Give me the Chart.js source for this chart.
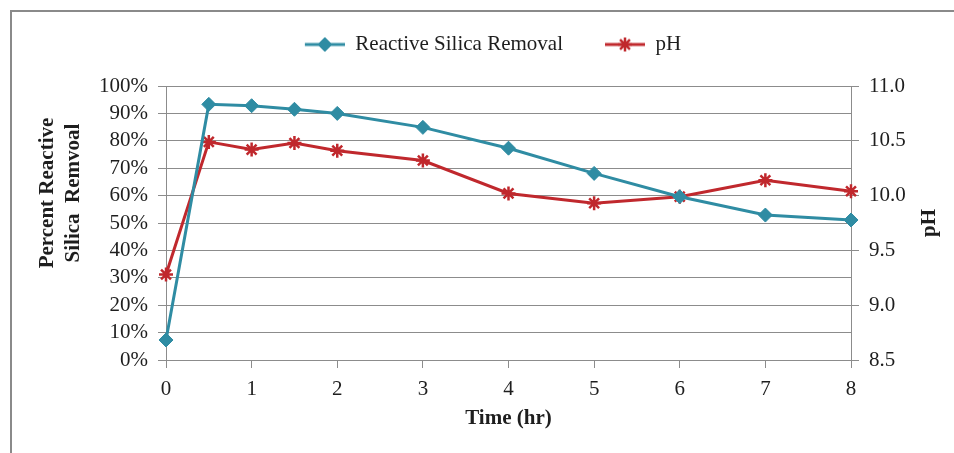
<!DOCTYPE html>
<html>
<head>
<meta charset="utf-8">
<script src="https://cdn.jsdelivr.net/npm/chart.js@4/dist/chart.umd.min.js"></script>
<style>
  html, body { margin: 0; padding: 0; background: #fff; }
</style>
</head>
<body>
<canvas id="myChart" width="954" height="453"></canvas>
<script>
// sampling times (hr)
const hours = [0, 0.5, 1, 1.5, 2, 3, 4, 5, 6, 7, 8];
// percent reactive silica removed
const silicaRemoval = [7.3, 93.3, 92.8, 91.5, 90.0, 84.9, 77.3, 68.1, 59.6, 52.9, 51.1];
// pH at each sample
const phValues = [9.28, 10.49, 10.42, 10.48, 10.41, 10.32, 10.02, 9.93, 9.99, 10.14, 10.04];

const timeTicks = [0, 1, 2, 3, 4, 5, 6, 7, 8];
const percentTicks = [0, 10, 20, 30, 40, 50, 60, 70, 80, 90, 100];
const phTicks = [8.5, 9.0, 9.5, 10.0, 10.5, 11.0];

const TEAL = '#2f8ca3';
const RED = '#c0282d';
const GRID = '#8c8c8c';
const TEXT = '#1e1e1e';
const FONT = '"Liberation Serif", "Times New Roman", serif';

Chart.defaults.font.family = FONT;
Chart.defaults.color = TEXT;

const toPoints = ys => hours.map((x, i) => ({ x, y: ys[i] }));
const useTicks = list => scale => { scale.ticks = list.map(value => ({ value })); };

// legend swatch: short line with the series marker in the middle
function legendIcon(color, style) {
    const c = document.createElement('canvas');
    c.width = 72;
    c.height = 22;
    const g = c.getContext('2d');
    g.strokeStyle = color;
    g.lineWidth = 3;
    g.beginPath();
    g.moveTo(32, 11);
    g.lineTo(72, 11);
    g.stroke();
    g.fillStyle = color;
    g.lineWidth = style === 'star' ? 2.5 : 1;
    Chart.helpers.drawPoint(g, { pointStyle: style, radius: 7, rotation: 0, borderWidth: g.lineWidth }, 52, 11);
    return c;
}
const legendIcons = [legendIcon(TEAL, 'rectRot'), legendIcon(RED, 'star')];

const framePlugin = {
    id: 'frame',
    beforeDraw(chart) {
        const ctx = chart.ctx;
        ctx.save();
        ctx.fillStyle = '#fff';
        ctx.fillRect(0, 0, chart.width, chart.height);
        ctx.strokeStyle = '#8a8a8a';
        ctx.lineWidth = 2;
        ctx.beginPath();
        ctx.moveTo(11, chart.height);
        ctx.lineTo(11, 11);
        ctx.lineTo(chart.width, 11);
        ctx.stroke();
        ctx.restore();
    }
};

// push the plot area down below the legend
const legendGap = {
    id: 'legendGap',
    afterInit(chart) {
        const fit = chart.legend.fit;
        chart.legend.fit = function () {
            fit.call(this);
            this.height += 21;
        };
    }
};

// rotated y-axis titles
const sideTitles = {
    id: 'sideTitles',
    afterDraw(chart) {
        const { ctx, chartArea } = chart;
        ctx.save();
        ctx.font = 'bold 21px ' + FONT;
        ctx.fillStyle = TEXT;
        ctx.textAlign = 'center';
        ctx.textBaseline = 'middle';

        ctx.translate(chartArea.left - 118, chartArea.top + 107);
        ctx.rotate(-Math.PI / 2);
        ctx.fillText('Percent Reactive', 0, 0);
        ctx.fillText('Silica  Remvoal', 0, 26);
        ctx.restore();

        ctx.save();
        ctx.font = 'bold 21px ' + FONT;
        ctx.fillStyle = TEXT;
        ctx.textAlign = 'center';
        ctx.textBaseline = 'middle';
        ctx.translate(chartArea.right + 79, (chartArea.top + chartArea.bottom) / 2);
        ctx.rotate(-Math.PI / 2);
        ctx.fillText('pH', 0, 0);
        ctx.restore();
    }
};

const ctx = document.getElementById('myChart').getContext('2d');
new Chart(ctx, {
    type: 'line',
    data: {
        datasets: [
            {
                label: 'Reactive Silica Removal',
                data: toPoints(silicaRemoval),
                yAxisID: 'y',
                borderColor: TEAL,
                backgroundColor: TEAL,
                borderWidth: 3,
                pointStyle: 'rectRot',
                pointRadius: 7,
                pointBorderWidth: 1,
                pointBackgroundColor: TEAL,
                pointBorderColor: TEAL,
                tension: 0,
                clip: false
            },
            {
                label: 'pH',
                data: toPoints(phValues),
                yAxisID: 'y1',
                borderColor: RED,
                backgroundColor: RED,
                borderWidth: 3,
                pointStyle: 'star',
                pointRadius: 7,
                pointBorderWidth: 2.5,
                pointBorderColor: RED,
                pointBackgroundColor: RED,
                tension: 0,
                clip: false
            }
        ]
    },
    options: {
        responsive: false,
        animation: false,
        devicePixelRatio: 1,
        layout: { padding: { top: 24, left: 0, right: 0, bottom: 0 } },
        plugins: {
            tooltip: { enabled: false },
            legend: {
                position: 'top',
                labels: {
                    usePointStyle: true,
                    pointStyleWidth: 72,
                    padding: 10,
                    color: TEXT,
                    font: { size: 21, family: FONT },
                    generateLabels: chart =>
                        Chart.defaults.plugins.legend.labels.generateLabels(chart)
                            .map((item, i) => ({ ...item, pointStyle: legendIcons[i] }))
                }
            }
        },
        scales: {
            x: {
                type: 'linear',
                min: 0,
                max: 8,
                afterBuildTicks: useTicks(timeTicks),
                afterFit: s => { s.height = 93; },
                ticks: { padding: 9, font: { size: 21 }, color: TEXT, maxRotation: 0, autoSkip: false },
                grid: { drawOnChartArea: false, drawTicks: true, tickLength: 8, color: GRID },
                border: { color: GRID, width: 1 },
                title: {
                    display: true,
                    text: 'Time (hr)',
                    color: TEXT,
                    font: { size: 21, weight: 'bold' },
                    padding: { top: 0, bottom: 22 }
                }
            },
            y: {
                position: 'left',
                min: 0,
                max: 100,
                afterBuildTicks: useTicks(percentTicks),
                afterFit: s => { s.width = 166; },
                ticks: { padding: 10, font: { size: 21 }, color: TEXT, autoSkip: false, callback: v => v + '%' },
                grid: { color: GRID, tickLength: 8 },
                border: { color: GRID, width: 1 }
            },
            y1: {
                position: 'right',
                min: 8.5,
                max: 11,
                afterBuildTicks: useTicks(phTicks),
                afterFit: s => { s.width = 103; },
                ticks: { padding: 10, font: { size: 21 }, color: TEXT, autoSkip: false, callback: v => v.toFixed(1) },
                grid: { drawOnChartArea: false, color: GRID, tickLength: 8 },
                border: { color: GRID, width: 1 }
            }
        }
    },
    plugins: [framePlugin, legendGap, sideTitles]
});
</script>
</body>
</html>
